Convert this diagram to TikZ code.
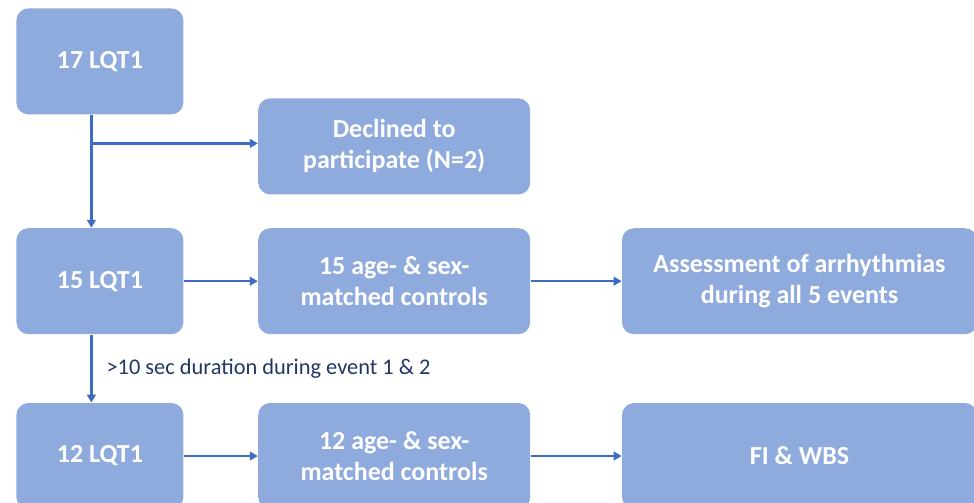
\documentclass[tikz,border=0pt]{standalone}
\usepackage{fontspec}
\setmainfont{Carlito}
\usetikzlibrary{arrows.meta,positioning}
\definecolor{boxfill}{HTML}{8FAADC}
\definecolor{arrowc}{HTML}{3F6BC4}
\definecolor{labc}{HTML}{203864}
\tikzset{
  >={Triangle[length=4pt,width=4.4pt]},
  box/.style={fill=boxfill,rounded corners=6pt,text=white,align=center,inner sep=0pt,
    font=\fontsize{13}{15.5}\selectfont\bfseries,minimum height=53pt},
  lbox/.style={box,minimum width=83.5pt},
  wbox/.style={box,minimum width=136pt},
  arr/.style={->,draw=arrowc,line width=1.1pt},
  lab/.style={font=\fontsize{11.2}{13}\selectfont,text=labc,inner sep=0pt},
}
\begin{document}
\begin{tikzpicture}[node distance=16.5pt]
\useasboundingbox (0,0) rectangle (487pt,-251.5pt);
% left column
\node[lbox,anchor=north west] (lq17) at (8pt,-4pt) {17 LQT1};
\node[lbox,below=56.5pt of lq17] (lq15) {15 LQT1};
\node[lbox,below=34pt of lq15] (lq12) {12 LQT1};
% controls and outcomes
\node[wbox,right=37pt of lq15] (ctl15) {15 age- \& sex-\\matched controls};
\node[wbox,right=37pt of lq12] (ctl12) {12 age- \& sex-\\matched controls};
\node[wbox,minimum height=48pt,above=16.5pt of ctl15] (decl) {Declined to\\participate (N=2)};
\node[box,minimum width=177.5pt,right=45.5pt of ctl15] (assess) {Assessment of arrhythmias\\during all 5 events};
\node[box,minimum width=177.5pt,right=45.5pt of ctl12] (fiwbs) {FI \& WBS};
% connectors, down the left column a bit left of centre
\coordinate (c17) at ([xshift=-4.25pt]lq17.south);
\coordinate (c15t) at (c17 |- lq15.north);
\coordinate (c15b) at (c17 |- lq15.south);
\coordinate (c12) at (c17 |- lq12.north);
\coordinate (split) at ([yshift=1.5pt]c17 |- decl.west);
\draw[arr] (c17) -- (c15t);
\draw[arr] (split) -- (split -| decl.west);
\draw[arr] (c15b) -- node[lab,right=7pt] {>10 sec duration during event 1 \& 2} (c12);
\draw[arr] (lq15) -- (ctl15); \draw[arr] (ctl15) -- (assess);
\draw[arr] (lq12) -- (ctl12); \draw[arr] (ctl12) -- (fiwbs);
\end{tikzpicture}
\end{document}
